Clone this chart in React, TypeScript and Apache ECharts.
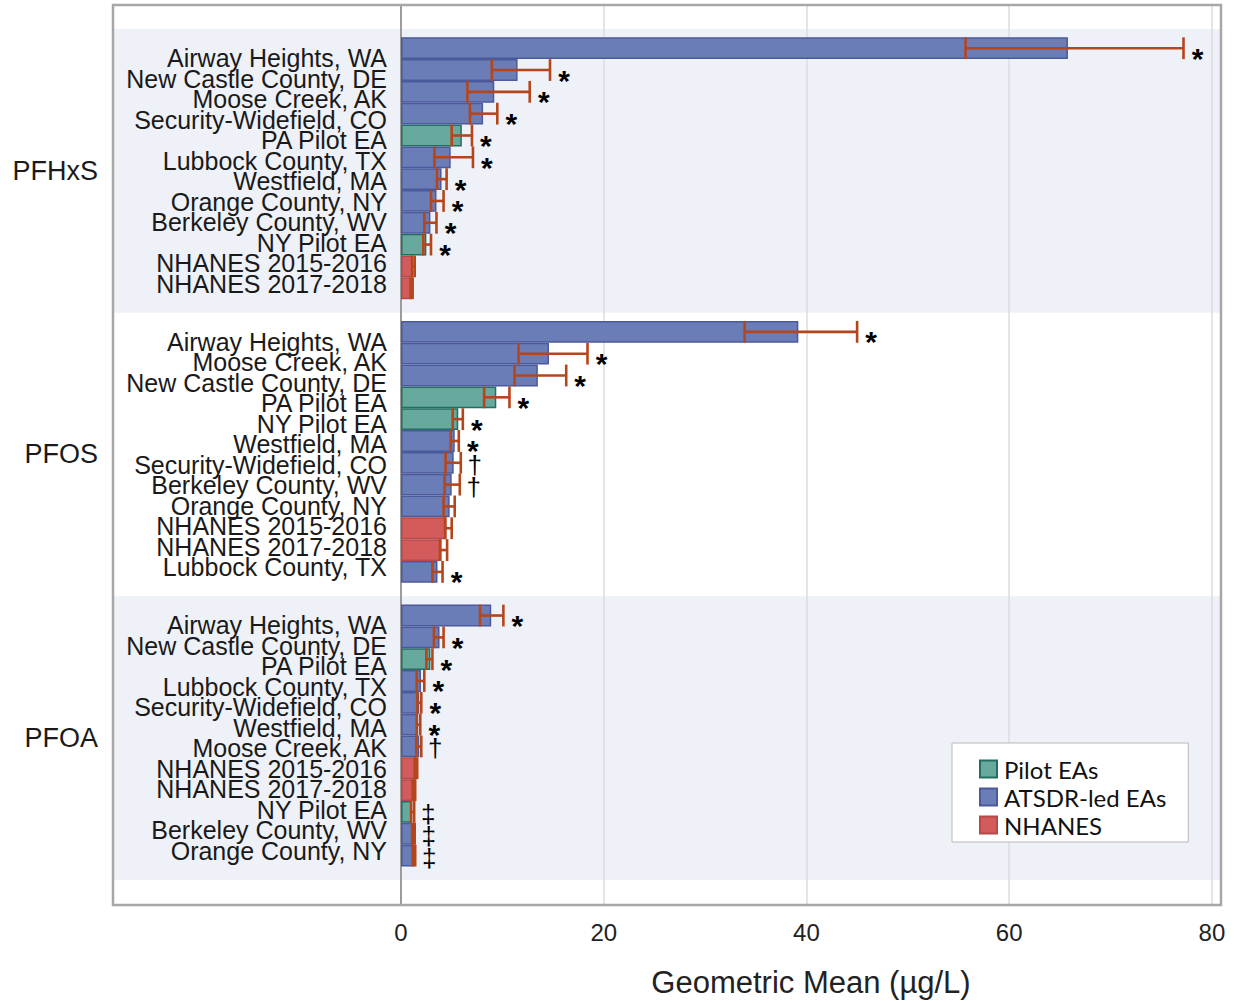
import React, { useEffect, useRef } from "react";
import * as echarts from "echarts";

// ---------------- data ----------------
const groupNames = ["PFHxS", "PFOS", "PFOA"];

const pfhxsSites = [
  "Airway Heights, WA", "New Castle County, DE", "Moose Creek, AK", "Security-Widefield, CO",
  "PA Pilot EA", "Lubbock County, TX", "Westfield, MA", "Orange County, NY",
  "Berkeley County, WV", "NY Pilot EA", "NHANES 2015-2016", "NHANES 2017-2018",
];
const pfhxsMean = [65.8, 11.5, 9.2, 8.1, 6.0, 4.9, 4.0, 3.5, 2.9, 2.5, 1.2, 1.05];
const pfhxsLow = [55.7, 8.96, 6.55, 6.8, 5.0, 3.3, 3.55, 2.96, 2.3, 2.2, 1.1, 0.95];
const pfhxsHigh = [77.2, 14.7, 12.7, 9.5, 7.0, 7.1, 4.5, 4.2, 3.5, 2.96, 1.35, 1.15];
const pfhxsMark = ["*", "*", "*", "*", "*", "*", "*", "*", "*", "*", "", ""];

const pfosSites = [
  "Airway Heights, WA", "Moose Creek, AK", "New Castle County, DE", "PA Pilot EA",
  "NY Pilot EA", "Westfield, MA", "Security-Widefield, CO", "Berkeley County, WV",
  "Orange County, NY", "NHANES 2015-2016", "NHANES 2017-2018", "Lubbock County, TX",
];
const pfosMean = [39.2, 14.6, 13.5, 9.4, 5.65, 5.3, 5.2, 5.0, 4.8, 4.5, 4.0, 3.6];
const pfosLow = [33.9, 11.6, 11.2, 8.2, 5.1, 4.9, 4.4, 4.3, 4.2, 4.35, 3.85, 3.1];
const pfosHigh = [45.0, 18.4, 16.3, 10.7, 6.1, 5.7, 5.9, 5.8, 5.3, 5.0, 4.55, 4.1];
const pfosMark = ["*", "*", "*", "*", "*", "*", "\u2020", "\u2020", "", "", "", "*"];

const pfoaSites = [
  "Airway Heights, WA", "New Castle County, DE", "PA Pilot EA", "Lubbock County, TX",
  "Security-Widefield, CO", "Westfield, MA", "Moose Creek, AK", "NHANES 2015-2016",
  "NHANES 2017-2018", "NY Pilot EA", "Berkeley County, WV", "Orange County, NY",
];
const pfoaMean = [8.9, 3.8, 2.9, 1.97, 1.8, 1.7, 1.8, 1.48, 1.3, 1.05, 1.3, 1.35];
const pfoaLow = [7.8, 3.25, 2.5, 1.55, 1.6, 1.55, 1.5, 1.35, 1.15, 1.0, 1.1, 1.15];
const pfoaHigh = [10.1, 4.2, 3.1, 2.3, 2.0, 1.9, 2.0, 1.6, 1.4, 1.3, 1.35, 1.4];
const pfoaMark = ["*", "*", "*", "*", "*", "*", "\u2020", "", "", "\u2021", "\u2021", "\u2021"];

const seriesNames = ["Pilot EAs", "ATSDR-led EAs", "NHANES"];
const xTicks = [0, 20, 40, 60, 80];
const xAxisTitle = "Geometric Mean (\u00b5g/L)";

// ---------------- styles / layout ----------------
const FILL = ["#67a99d", "#6b7db6", "#d35b5c"];
const EDGE = ["#226e62", "#4b5a9c", "#b64a4b"];
const ERR = "#b5461c";
const BAND = "#eef1f7";
const FRAME_C = "#a7a7a7";

const FRAME_L = 113, FRAME_R = 1221, FRAME_T = 5, FRAME_B = 905;
const PLOT_L = 401;
const BAR_TOP = 37.3;
const SLOT = 21.82;
const PER_GROUP = 13; // 12 rows + spacer
const LABEL_FIRST = 58; // centre of the first site label
const LABEL_PITCH = 20.5;
const X_MAX = 80.9; // right edge of the frame in data units
const LABEL_FONT = "'Liberation Sans', Arial, sans-serif";

const groups = [
  { sites: pfhxsSites, mean: pfhxsMean, low: pfhxsLow, high: pfhxsHigh, mark: pfhxsMark },
  { sites: pfosSites, mean: pfosMean, low: pfosLow, high: pfosHigh, mark: pfosMark },
  { sites: pfoaSites, mean: pfoaMean, low: pfoaLow, high: pfoaHigh, mark: pfoaMark },
];

function siteType(name: string): number {
  if (name.indexOf("Pilot") >= 0) return 0;
  if (name.indexOf("NHANES") >= 0) return 2;
  return 1;
}

export default function App() {
  const ref = useRef<HTMLDivElement>(null);

  useEffect(() => {
    if (!ref.current) return;
    const chart = echarts.init(ref.current, null, { renderer: "svg" });

    const nSlots = groups.length * PER_GROUP;
    const groupH = PER_GROUP * SLOT;
    const catData: string[] = [];
    const barData: any[][] = [[], [], []];
    const errData: number[][] = [];
    const errMarks: string[] = [];

    groups.forEach((g, gi) => {
      for (let i = 0; i < PER_GROUP; i++) {
        const idx = gi * PER_GROUP + i;
        catData.push(String(idx));
        if (i < g.sites.length) {
          const t = siteType(g.sites[i]);
          for (let s = 0; s < 3; s++) barData[s].push(s === t ? g.mean[i] : "-");
          errData.push([g.low[i], g.high[i], idx]);
          errMarks.push(g.mark[i]);
        } else {
          for (let s = 0; s < 3; s++) barData[s].push("-");
        }
      }
    });

    const graphics: any[] = [];
    groups.forEach((_, gi) => {
      const top = BAR_TOP + gi * groupH - 0.38 * SLOT;
      if (gi % 2 === 0) {
        graphics.push({
          type: "rect",
          z: -10,
          shape: { x: FRAME_L, y: top, width: FRAME_R - FRAME_L, height: groupH },
          style: { fill: BAND },
          silent: true,
        });
      }
      graphics.push({
        type: "text",
        x: 98,
        y: top + groupH / 2,
        style: {
          text: groupNames[gi],
          fontSize: 27,
          fontFamily: LABEL_FONT,
          fill: "#1a1a1a",
          align: "right",
          verticalAlign: "middle",
        },
      });
    });
    graphics.push({
      type: "rect",
      z: 50,
      shape: { x: FRAME_L, y: FRAME_T, width: FRAME_R - FRAME_L, height: FRAME_B - FRAME_T },
      style: { fill: "none", stroke: FRAME_C, lineWidth: 2.5 },
      silent: true,
    });

    const barSeries = seriesNames.map((name, s) => ({
      name,
      type: "bar",
      xAxisIndex: 1,
      yAxisIndex: 1,
      data: barData[s],
      barGap: "-100%",
      barCategoryGap: "0%",
      itemStyle: { color: FILL[s], borderColor: EDGE[s], borderWidth: 1.5 },
      emphasis: { disabled: true },
      z: 3,
    }));

    // label grids: one per group, site names sit on their own slightly tighter pitch
    const labelGrids = groups.map((g, gi) => ({
      left: PLOT_L,
      right: 1238 - FRAME_R,
      top: LABEL_FIRST + gi * groupH - LABEL_PITCH / 2,
      height: g.sites.length * LABEL_PITCH,
    }));
    const labelX = groups.map((_, gi) => ({
      type: "value",
      gridIndex: 2 + gi,
      min: 0,
      max: X_MAX,
      show: false,
    }));
    const labelY = groups.map((g, gi) => ({
      type: "category",
      gridIndex: 2 + gi,
      inverse: true,
      data: g.sites,
      axisLine: { show: false },
      axisTick: { show: false },
      splitLine: { show: false },
      axisLabel: {
        interval: 0,
        fontSize: 25,
        fontFamily: LABEL_FONT,
        color: "#1a1a1a",
        margin: 14,
      },
    }));

    const option: any = {
      animation: false,
      backgroundColor: "#ffffff",
      graphic: graphics,
      grid: [
        { left: PLOT_L, right: 1238 - FRAME_R, top: FRAME_T, height: FRAME_B - FRAME_T },
        { left: PLOT_L, right: 1238 - FRAME_R, top: BAR_TOP, height: nSlots * SLOT },
        ...labelGrids,
      ],
      xAxis: [
        {
          type: "value",
          gridIndex: 0,
          min: xTicks[0],
          max: X_MAX,
          interval: 20,
          axisLine: { show: false },
          axisTick: { show: false },
          splitLine: { show: true, lineStyle: { color: "#dcdcdc", width: 1.5 } },
          axisLabel: {
            fontSize: 24,
            fontFamily: LABEL_FONT,
            color: "#222",
            margin: 15,
            formatter: (v: number) => (xTicks.indexOf(v) >= 0 ? String(v) : ""),
          },
          name: xAxisTitle,
          nameLocation: "middle",
          nameGap: 62,
          nameTextStyle: { fontSize: 31, fontFamily: LABEL_FONT, color: "#222" },
        },
        {
          type: "value",
          gridIndex: 1,
          min: xTicks[0],
          max: X_MAX,
          show: false,
        },
        ...labelX,
      ],
      yAxis: [
        {
          type: "value",
          gridIndex: 0,
          min: 0,
          max: 1,
          axisLine: { show: true, lineStyle: { color: "#9c9c9c", width: 2 } },
          axisTick: { show: false },
          axisLabel: { show: false },
          splitLine: { show: false },
        },
        {
          type: "category",
          gridIndex: 1,
          inverse: true,
          data: catData,
          axisLine: { show: false },
          axisTick: { show: false },
          splitLine: { show: false },
          axisLabel: { show: false },
        },
        ...labelY,
      ],
      legend: {
        data: seriesNames,
        orient: "vertical",
        left: 952,
        top: 743,
        backgroundColor: "#ffffff",
        borderColor: "#b9b9b9",
        borderWidth: 1,
        borderRadius: 0,
        padding: [14, 22, 5, 27],
        itemGap: 4,
        itemWidth: 17,
        itemHeight: 17,
        icon: "rect",
        selectedMode: false,
        textStyle: { fontSize: 24, fontFamily: "Lato, 'Open Sans', sans-serif", color: "#111", padding: [0, 0, 0, 2] },
      },
      series: [
        ...barSeries,
        {
          type: "custom",
          name: "errors",
          xAxisIndex: 1,
          yAxisIndex: 1,
          z: 5,
          data: errData,
          encode: { x: [0, 1], y: 2 },
          renderItem: (params: any, api: any) => {
            const lo = api.coord([api.value(0), api.value(2)]);
            const hi = api.coord([api.value(1), api.value(2)]);
            const h = api.size([0, 1])[1];
            const st = { stroke: ERR, lineWidth: 2.6 };
            const children: any[] = [
              { type: "line", shape: { x1: lo[0], y1: lo[1], x2: hi[0], y2: hi[1] }, style: st },
              { type: "line", shape: { x1: lo[0], y1: lo[1] - h / 2, x2: lo[0], y2: lo[1] + h / 2 }, style: st },
              { type: "line", shape: { x1: hi[0], y1: hi[1] - h / 2, x2: hi[0], y2: hi[1] + h / 2 }, style: st },
            ];
            const m = errMarks[params.dataIndex];
            if (m) {
              const star = m === "*";
              children.push({
                type: "text",
                x: hi[0] + 14,
                y: hi[1] + (star ? 10 : 2),
                style: {
                  text: m,
                  fontSize: star ? 30 : 26,
                  fontWeight: star ? "bold" : "normal",
                  fontFamily: LABEL_FONT,
                  fill: "#000",
                  align: "center",
                  verticalAlign: "middle",
                },
              });
            }
            return { type: "group", children };
          },
        },
      ],
    };

    chart.setOption(option);
    return () => chart.dispose();
  }, []);

  return (
    <div
      ref={ref}
      style={{ position: "absolute", left: 0, top: 0, width: 1238, height: 1003 }}
    />
  );
}
